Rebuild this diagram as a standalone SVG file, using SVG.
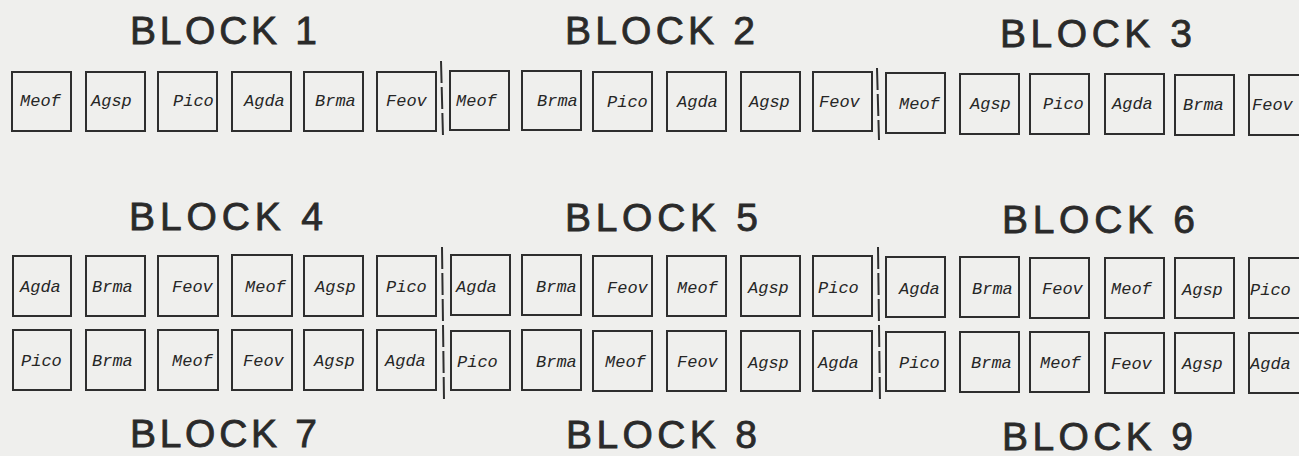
<svg xmlns="http://www.w3.org/2000/svg" width="1299" height="456" viewBox="0 0 1299 456">
<style>
.bg{fill:#efefed}
.box{fill:none;stroke:#2e2e2e;stroke-width:2}
.lbl{font-family:"Liberation Mono",monospace;font-style:italic;font-size:17px;fill:#262626}
.ttl{font-family:"Liberation Sans",Arial,sans-serif;font-size:39px;fill:#2a2a2a;stroke:#2a2a2a;stroke-width:0.8}
.sep{fill:none;stroke:#2e2e2e;stroke-width:2;stroke-dasharray:22 4}
</style>
<rect class="bg" x="0" y="0" width="1299" height="456"/>
<g id="titles">
<g id="t1"><text class="ttl" x="130" y="44" textLength="187" lengthAdjust="spacing">BLOCK 1</text></g>
<g id="t2"><text class="ttl" x="565" y="44" textLength="190" lengthAdjust="spacing">BLOCK 2</text></g>
<g id="t3"><text class="ttl" x="1000" y="47" textLength="192" lengthAdjust="spacing">BLOCK 3</text></g>
<g id="t4"><text class="ttl" x="129" y="230" textLength="194" lengthAdjust="spacing">BLOCK 4</text></g>
<g id="t5"><text class="ttl" x="565" y="231" textLength="193" lengthAdjust="spacing">BLOCK 5</text></g>
<g id="t6"><text class="ttl" x="1002" y="233" textLength="193" lengthAdjust="spacing">BLOCK 6</text></g>
<g id="t7"><text class="ttl" x="130" y="447" textLength="187" lengthAdjust="spacing">BLOCK 7</text></g>
<g id="t8"><text class="ttl" x="566" y="448" textLength="191" lengthAdjust="spacing">BLOCK 8</text></g>
<g id="t9"><text class="ttl" x="1002" y="450" textLength="191" lengthAdjust="spacing">BLOCK 9</text></g>
</g>
<g id="block1">
<g id="b1-1"><rect class="box" x="12" y="72" width="59" height="59"/><text class="lbl" x="20" y="106">Meof</text></g>
<g id="b1-2"><rect class="box" x="86" y="72" width="59" height="59"/><text class="lbl" x="91" y="106">Agsp</text></g>
<g id="b1-3"><rect class="box" x="158" y="72" width="59" height="59"/><text class="lbl" x="173" y="106">Pico</text></g>
<g id="b1-4"><rect class="box" x="232" y="72" width="59" height="59"/><text class="lbl" x="244" y="106">Agda</text></g>
<g id="b1-5"><rect class="box" x="304" y="72" width="59" height="59"/><text class="lbl" x="315" y="106">Brma</text></g>
<g id="b1-6"><rect class="box" x="377" y="72" width="59" height="59"/><text class="lbl" x="386" y="106">Feov</text></g>
</g>
<g id="block2">
<g id="b2-1"><rect class="box" x="450" y="71" width="59" height="59"/><text class="lbl" x="456" y="106">Meof</text></g>
<g id="b2-2"><rect class="box" x="522" y="71" width="59" height="59"/><text class="lbl" x="537" y="106">Brma</text></g>
<g id="b2-3"><rect class="box" x="593" y="72" width="59" height="59"/><text class="lbl" x="607" y="107">Pico</text></g>
<g id="b2-4"><rect class="box" x="667" y="72" width="59" height="59"/><text class="lbl" x="677" y="107">Agda</text></g>
<g id="b2-5"><rect class="box" x="741" y="72" width="59" height="59"/><text class="lbl" x="749" y="107">Agsp</text></g>
<g id="b2-6"><rect class="box" x="813" y="72" width="59" height="59"/><text class="lbl" x="819" y="107">Feov</text></g>
</g>
<g id="block3">
<g id="b3-1"><rect class="box" x="886" y="73" width="59" height="60"/><text class="lbl" x="899" y="109">Meof</text></g>
<g id="b3-2"><rect class="box" x="960" y="74" width="59" height="60"/><text class="lbl" x="970" y="109">Agsp</text></g>
<g id="b3-3"><rect class="box" x="1030" y="74" width="59" height="60"/><text class="lbl" x="1043" y="109">Pico</text></g>
<g id="b3-4"><rect class="box" x="1105" y="74" width="59" height="60"/><text class="lbl" x="1112" y="109">Agda</text></g>
<g id="b3-5"><rect class="box" x="1175" y="75" width="59" height="60"/><text class="lbl" x="1183" y="110">Brma</text></g>
<g id="b3-6"><rect class="box" x="1249" y="75" width="59" height="60"/><text class="lbl" x="1252" y="110">Feov</text></g>
</g>
<g id="block4">
<g id="b4-1"><rect class="box" x="13" y="256" width="58" height="60"/><text class="lbl" x="20" y="292">Agda</text></g>
<g id="b4-2"><rect class="box" x="86" y="256" width="59" height="60"/><text class="lbl" x="92" y="292">Brma</text></g>
<g id="b4-3"><rect class="box" x="158" y="256" width="60" height="60"/><text class="lbl" x="172" y="292">Feov</text></g>
<g id="b4-4"><rect class="box" x="232" y="255" width="60" height="61"/><text class="lbl" x="245" y="292">Meof</text></g>
<g id="b4-5"><rect class="box" x="304" y="256" width="59" height="60"/><text class="lbl" x="315" y="292">Agsp</text></g>
<g id="b4-6"><rect class="box" x="377" y="256" width="59" height="60"/><text class="lbl" x="386" y="292">Pico</text></g>
</g>
<g id="block5">
<g id="b5-1"><rect class="box" x="451" y="255" width="59" height="60"/><text class="lbl" x="456" y="292">Agda</text></g>
<g id="b5-2"><rect class="box" x="522" y="255" width="59" height="60"/><text class="lbl" x="536" y="292">Brma</text></g>
<g id="b5-3"><rect class="box" x="593" y="256" width="59" height="60"/><text class="lbl" x="607" y="293">Feov</text></g>
<g id="b5-4"><rect class="box" x="667" y="256" width="59" height="60"/><text class="lbl" x="677" y="293">Meof</text></g>
<g id="b5-5"><rect class="box" x="741" y="256" width="59" height="60"/><text class="lbl" x="748" y="293">Agsp</text></g>
<g id="b5-6"><rect class="box" x="813" y="256" width="59" height="60"/><text class="lbl" x="818" y="293">Pico</text></g>
</g>
<g id="block6">
<g id="b6-1"><rect class="box" x="886" y="257" width="59" height="60"/><text class="lbl" x="899" y="294">Agda</text></g>
<g id="b6-2"><rect class="box" x="960" y="257" width="59" height="60"/><text class="lbl" x="972" y="294">Brma</text></g>
<g id="b6-3"><rect class="box" x="1030" y="258" width="59" height="60"/><text class="lbl" x="1042" y="294">Feov</text></g>
<g id="b6-4"><rect class="box" x="1105" y="258" width="59" height="60"/><text class="lbl" x="1111" y="294">Meof</text></g>
<g id="b6-5"><rect class="box" x="1175" y="258" width="59" height="60"/><text class="lbl" x="1182" y="295">Agsp</text></g>
<g id="b6-6"><rect class="box" x="1249" y="258" width="59" height="60"/><text class="lbl" x="1250" y="295">Pico</text></g>
</g>
<g id="block7">
<g id="b7-1"><rect class="box" x="13" y="330" width="58" height="60"/><text class="lbl" x="21" y="366">Pico</text></g>
<g id="b7-2"><rect class="box" x="86" y="330" width="59" height="60"/><text class="lbl" x="92" y="366">Brma</text></g>
<g id="b7-3"><rect class="box" x="158" y="330" width="60" height="60"/><text class="lbl" x="172" y="366">Meof</text></g>
<g id="b7-4"><rect class="box" x="232" y="330" width="60" height="60"/><text class="lbl" x="243" y="366">Feov</text></g>
<g id="b7-5"><rect class="box" x="304" y="330" width="59" height="60"/><text class="lbl" x="314" y="366">Agsp</text></g>
<g id="b7-6"><rect class="box" x="377" y="330" width="59" height="60"/><text class="lbl" x="385" y="366">Agda</text></g>
</g>
<g id="block8">
<g id="b8-1"><rect class="box" x="451" y="331" width="59" height="59"/><text class="lbl" x="457" y="367">Pico</text></g>
<g id="b8-2"><rect class="box" x="522" y="330" width="59" height="60"/><text class="lbl" x="536" y="367">Brma</text></g>
<g id="b8-3"><rect class="box" x="593" y="331" width="59" height="60"/><text class="lbl" x="605" y="367">Meof</text></g>
<g id="b8-4"><rect class="box" x="667" y="331" width="59" height="60"/><text class="lbl" x="677" y="367">Feov</text></g>
<g id="b8-5"><rect class="box" x="741" y="331" width="59" height="60"/><text class="lbl" x="748" y="368">Agsp</text></g>
<g id="b8-6"><rect class="box" x="813" y="331" width="59" height="60"/><text class="lbl" x="818" y="368">Agda</text></g>
</g>
<g id="block9">
<g id="b9-1"><rect class="box" x="886" y="332" width="59" height="59"/><text class="lbl" x="899" y="368">Pico</text></g>
<g id="b9-2"><rect class="box" x="960" y="332" width="59" height="60"/><text class="lbl" x="971" y="368">Brma</text></g>
<g id="b9-3"><rect class="box" x="1030" y="332" width="59" height="60"/><text class="lbl" x="1040" y="368">Meof</text></g>
<g id="b9-4"><rect class="box" x="1105" y="333" width="59" height="60"/><text class="lbl" x="1111" y="369">Feov</text></g>
<g id="b9-5"><rect class="box" x="1175" y="333" width="59" height="60"/><text class="lbl" x="1182" y="369">Agsp</text></g>
<g id="b9-6"><rect class="box" x="1249" y="333" width="59" height="60"/><text class="lbl" x="1250" y="369">Agda</text></g>
</g>
<g id="separators">
<path class="sep" d="M441 61 L443 137"/>
<path class="sep" d="M877 68 L879 140"/>
<path class="sep" d="M442 247 L444 401"/>
<path class="sep" d="M878 247 L880 403"/>
</g>
</svg>
